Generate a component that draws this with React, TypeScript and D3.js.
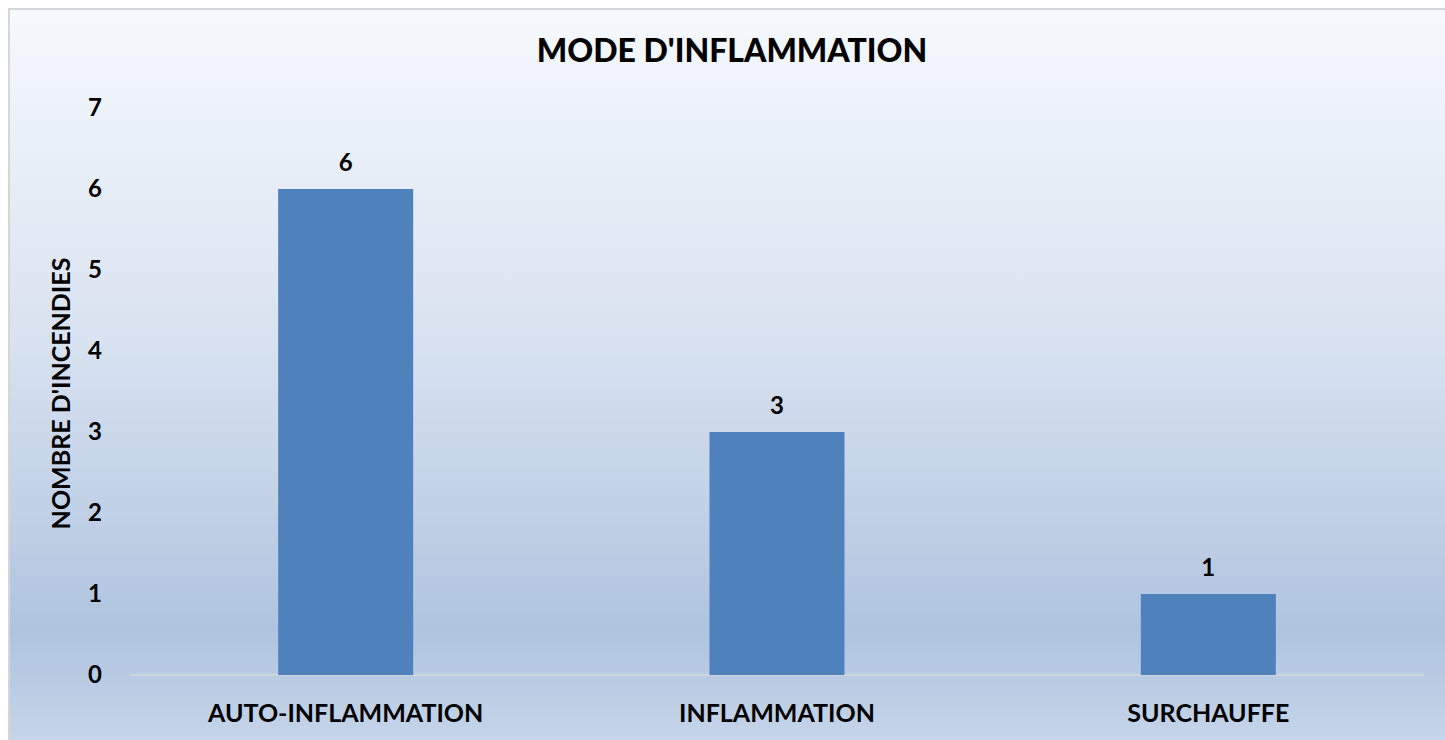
import * as d3 from "d3";

const categories = ["AUTO-INFLAMMATION", "INFLAMMATION", "SURCHAUFFE"];
const values = [6, 3, 1];
const yTicks = [0, 1, 2, 3, 4, 5, 6, 7];
const title = "MODE D'INFLAMMATION";
const yTitle = "NOMBRE D'INCENDIES";

const W = 1445;
const H = 740;
const font = "Lato, 'Open Sans', sans-serif";

export default function App() {
  const plot = { left: 130, right: 1424, top: 108, bottom: 675 };

  const x = d3
    .scaleBand<string>()
    .domain(categories)
    .range([plot.left, plot.right])
    .paddingInner(0.687)
    .paddingOuter(0.3435);

  const y = d3.scaleLinear().domain([0, 7]).range([plot.bottom, plot.top]);

  return (
    <div style={{ position: "absolute", left: 0, top: 0, width: W, height: H, overflow: "hidden" }}>
      <svg width={W} height={H} style={{ display: "block" }}>
        <defs>
          <linearGradient id="bg" x1="0" y1="0" x2="0" y2="1">
            <stop offset="0" stopColor="#f6f9fd" />
            <stop offset="0.45" stopColor="#d8e2f0" />
            <stop offset="0.84" stopColor="#b0c4df" />
            <stop offset="1" stopColor="#c6d6ea" />
          </linearGradient>
        </defs>
        <rect x={9} y={9} width={W} height={H} fill="url(#bg)" stroke="#d6d6d6" strokeWidth={2} />

        <text
          x={732}
          y={62}
          textAnchor="middle"
          fontFamily={font}
          fontWeight="900"
          fontSize={32}
          fill="#000"
        >
          {title}
        </text>

        {yTicks.map((t) => (
          <text
            key={t}
            x={102}
            y={y(t)}
            dy="0.35em"
            textAnchor="end"
            fontFamily={font}
            fontWeight="bold"
            fontSize={24}
            fill="#000"
          >
            {t}
          </text>
        ))}

        <text
          transform={`translate(70,${(plot.top + plot.bottom) / 2 + 2}) rotate(-90)`}
          textAnchor="middle"
          fontFamily={font}
          fontWeight="bold"
          fontSize={25}
          fill="#000"
        >
          {yTitle}
        </text>

        <line
          x1={plot.left}
          x2={plot.right}
          y1={y(0)}
          y2={y(0)}
          stroke="#d9d9d9"
          strokeWidth={1.5}
        />

        {categories.map((c, i) => (
          <g key={c}>
            <rect
              x={x(c)}
              y={y(values[i])}
              width={x.bandwidth()}
              height={y(0) - y(values[i])}
              fill="#4f81bd"
            />
            <text
              x={x(c)! + x.bandwidth() / 2}
              y={y(values[i]) - 18}
              textAnchor="middle"
              fontFamily={font}
              fontWeight="bold"
              fontSize={24}
              fill="#000"
            >
              {values[i]}
            </text>
            <text
              x={x(c)! + x.bandwidth() / 2}
              y={722}
              textAnchor="middle"
              fontFamily={font}
              fontWeight="bold"
              fontSize={25}
              fill="#000"
            >
              {c}
            </text>
          </g>
        ))}
      </svg>
    </div>
  );
}
